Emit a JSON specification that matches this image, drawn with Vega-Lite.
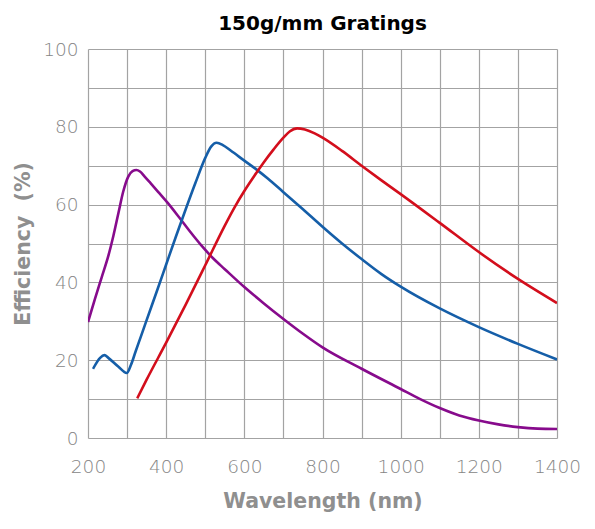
{
  "$schema": "https://vega.github.io/schema/vega-lite/v6.json",
  "autosize": "none",
  "width": 469,
  "height": 389,
  "padding": {"left": 88, "top": 49, "right": 38, "bottom": 91},
  "background": "white",
  "title": {
    "text": "150g/mm Gratings",
    "font": "DejaVu Sans",
    "fontSize": 20,
    "fontWeight": "bold",
    "color": "#000000",
    "anchor": "middle",
    "offset": 6
  },
  "data": {
    "values": [
      {"s": "purple", "wl": 200, "eff": 29.8},
      {"s": "purple", "wl": 218, "eff": 35.8},
      {"s": "purple", "wl": 235, "eff": 41.3},
      {"s": "purple", "wl": 252, "eff": 46.8},
      {"s": "purple", "wl": 265, "eff": 52.0},
      {"s": "purple", "wl": 278, "eff": 57.9},
      {"s": "purple", "wl": 290, "eff": 63.3},
      {"s": "purple", "wl": 303, "eff": 67.2},
      {"s": "purple", "wl": 314, "eff": 68.6},
      {"s": "purple", "wl": 324, "eff": 68.9},
      {"s": "purple", "wl": 333, "eff": 68.5},
      {"s": "purple", "wl": 345, "eff": 67.2},
      {"s": "purple", "wl": 360, "eff": 65.5},
      {"s": "purple", "wl": 380, "eff": 63.2},
      {"s": "purple", "wl": 405, "eff": 60.3},
      {"s": "purple", "wl": 434, "eff": 56.6},
      {"s": "purple", "wl": 460, "eff": 53.2},
      {"s": "purple", "wl": 490, "eff": 49.5},
      {"s": "purple", "wl": 520, "eff": 46.2},
      {"s": "purple", "wl": 550, "eff": 43.4},
      {"s": "purple", "wl": 600, "eff": 38.8},
      {"s": "purple", "wl": 650, "eff": 34.6},
      {"s": "purple", "wl": 700, "eff": 30.6},
      {"s": "purple", "wl": 750, "eff": 26.8},
      {"s": "purple", "wl": 800, "eff": 23.3},
      {"s": "purple", "wl": 900, "eff": 17.8},
      {"s": "purple", "wl": 1000, "eff": 12.6},
      {"s": "purple", "wl": 1050, "eff": 10.0},
      {"s": "purple", "wl": 1100, "eff": 7.7},
      {"s": "purple", "wl": 1150, "eff": 5.8},
      {"s": "purple", "wl": 1200, "eff": 4.5},
      {"s": "purple", "wl": 1250, "eff": 3.5},
      {"s": "purple", "wl": 1300, "eff": 2.8},
      {"s": "purple", "wl": 1350, "eff": 2.4},
      {"s": "purple", "wl": 1400, "eff": 2.3},
      {"s": "blue", "wl": 213, "eff": 17.8},
      {"s": "blue", "wl": 231, "eff": 20.6},
      {"s": "blue", "wl": 242, "eff": 21.3},
      {"s": "blue", "wl": 252, "eff": 20.6},
      {"s": "blue", "wl": 278, "eff": 18.3},
      {"s": "blue", "wl": 299, "eff": 16.7},
      {"s": "blue", "wl": 310, "eff": 18.8},
      {"s": "blue", "wl": 322, "eff": 22.3},
      {"s": "blue", "wl": 335, "eff": 26.0},
      {"s": "blue", "wl": 350, "eff": 30.3},
      {"s": "blue", "wl": 375, "eff": 37.4},
      {"s": "blue", "wl": 400, "eff": 44.6},
      {"s": "blue", "wl": 425, "eff": 51.8},
      {"s": "blue", "wl": 450, "eff": 58.8},
      {"s": "blue", "wl": 475, "eff": 65.6},
      {"s": "blue", "wl": 500, "eff": 72.0},
      {"s": "blue", "wl": 515, "eff": 74.9},
      {"s": "blue", "wl": 529, "eff": 75.9},
      {"s": "blue", "wl": 545, "eff": 75.3},
      {"s": "blue", "wl": 565, "eff": 73.9},
      {"s": "blue", "wl": 600, "eff": 71.3},
      {"s": "blue", "wl": 634, "eff": 68.8},
      {"s": "blue", "wl": 660, "eff": 66.7},
      {"s": "blue", "wl": 700, "eff": 63.2},
      {"s": "blue", "wl": 750, "eff": 58.8},
      {"s": "blue", "wl": 800, "eff": 54.3},
      {"s": "blue", "wl": 850, "eff": 50.0},
      {"s": "blue", "wl": 900, "eff": 46.0},
      {"s": "blue", "wl": 950, "eff": 42.2},
      {"s": "blue", "wl": 1000, "eff": 38.9},
      {"s": "blue", "wl": 1100, "eff": 33.3},
      {"s": "blue", "wl": 1200, "eff": 28.5},
      {"s": "blue", "wl": 1300, "eff": 24.2},
      {"s": "blue", "wl": 1400, "eff": 20.2},
      {"s": "red", "wl": 326, "eff": 10.2},
      {"s": "red", "wl": 350, "eff": 15.0},
      {"s": "red", "wl": 400, "eff": 24.5},
      {"s": "red", "wl": 450, "eff": 34.3},
      {"s": "red", "wl": 500, "eff": 44.4},
      {"s": "red", "wl": 550, "eff": 54.6},
      {"s": "red", "wl": 575, "eff": 59.3},
      {"s": "red", "wl": 600, "eff": 63.5},
      {"s": "red", "wl": 625, "eff": 67.3},
      {"s": "red", "wl": 650, "eff": 70.9},
      {"s": "red", "wl": 675, "eff": 74.2},
      {"s": "red", "wl": 700, "eff": 77.2},
      {"s": "red", "wl": 716, "eff": 78.8},
      {"s": "red", "wl": 735, "eff": 79.6},
      {"s": "red", "wl": 755, "eff": 79.3},
      {"s": "red", "wl": 780, "eff": 78.3},
      {"s": "red", "wl": 800, "eff": 77.2},
      {"s": "red", "wl": 850, "eff": 73.8},
      {"s": "red", "wl": 900, "eff": 70.0},
      {"s": "red", "wl": 950, "eff": 66.3},
      {"s": "red", "wl": 1000, "eff": 62.7},
      {"s": "red", "wl": 1100, "eff": 55.3},
      {"s": "red", "wl": 1200, "eff": 47.8},
      {"s": "red", "wl": 1300, "eff": 40.9},
      {"s": "red", "wl": 1400, "eff": 34.7}
    ]
  },
  "mark": {"type": "line", "interpolate": "monotone", "strokeWidth": 2.6, "clip": true},
  "encoding": {
    "x": {
      "field": "wl",
      "type": "quantitative",
      "scale": {"domain": [200, 1400], "nice": false, "zero": false},
      "axis": {
        "title": "Wavelength (nm)",
        "values": [200, 300, 400, 500, 600, 700, 800, 900, 1000, 1100, 1200, 1300, 1400],
        "labelExpr": "datum.value % 200 == 0 ? datum.label : ''",
        "format": "d",
        "domain": false,
        "ticks": false,
        "grid": true,
        "gridColor": "#a3a3a3",
        "gridWidth": 1.2,
        "gridOpacity": 1,
        "labelFont": "DejaVu Sans",
        "labelFontWeight": 200,
        "labelFontSize": 18.5,
        "labelColor": "#858585",
        "labelPadding": 19,
        "labelFlush": false,
        "labelOverlap": false,
        "titleFont": "DejaVu Sans",
        "titleFontSize": 20.5,
        "titleFontWeight": "bold",
        "titleColor": "#8f8f8f",
        "titlePadding": 16
      }
    },
    "y": {
      "field": "eff",
      "type": "quantitative",
      "scale": {"domain": [0, 100], "nice": false},
      "axis": {
        "title": "Efficiency\u00a0 (%)",
        "values": [0, 10, 20, 30, 40, 50, 60, 70, 80, 90, 100],
        "labelExpr": "datum.value % 20 == 0 ? datum.label : ''",
        "domain": false,
        "ticks": false,
        "grid": true,
        "gridColor": "#a3a3a3",
        "gridWidth": 1.2,
        "gridOpacity": 1,
        "labelFont": "DejaVu Sans",
        "labelFontWeight": 200,
        "labelFontSize": 18.5,
        "labelColor": "#858585",
        "labelPadding": 10,
        "labelFlush": false,
        "labelOverlap": false,
        "titleFont": "DejaVu Sans",
        "titleFontSize": 20.5,
        "titleFontWeight": "bold",
        "titleColor": "#8f8f8f",
        "titlePadding": 9
      }
    },
    "color": {
      "field": "s",
      "type": "nominal",
      "scale": {"domain": ["purple", "blue", "red"], "range": ["#870b8c", "#155ea8", "#d30e1c"]},
      "legend": null
    }
  },
  "config": {"view": {"stroke": null}}
}
